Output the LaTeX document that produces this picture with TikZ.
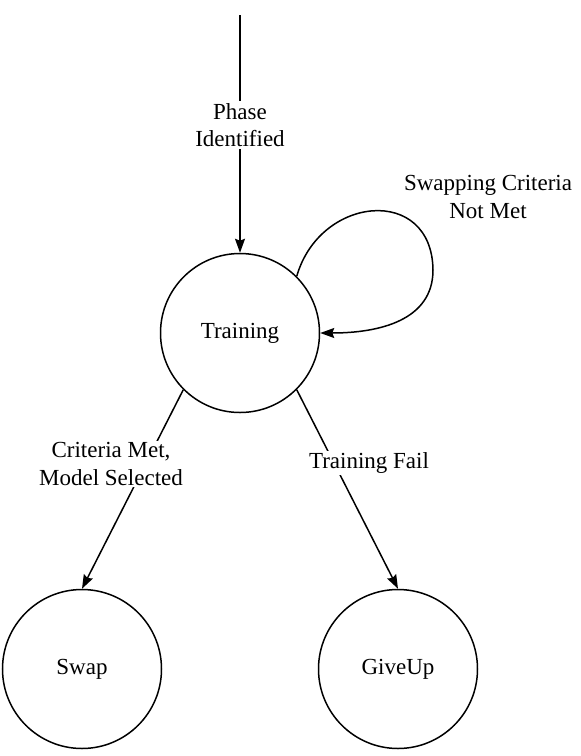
\documentclass[tikz,border=0pt]{standalone}
\usepackage{fontspec}
\setmainfont{LiberationSerif}[Extension=.ttf,UprightFont=*-Regular,BoldFont=*-Bold]
\usetikzlibrary{arrows.meta}
\begin{document}
\begin{tikzpicture}[x=1pt,y=-1pt,
  every node/.style={font=\rmfamily\fontsize{23}{27.5}\selectfont},
  state/.style={draw,circle,line width=1.5pt,minimum size=159pt,inner sep=0pt},
  conn/.style={line width=1.5pt,-{Stealth[length=14pt,width=10pt,inset=2pt]}},
  lbl/.style={fill=white,inner sep=2pt,align=center}]
\useasboundingbox (0,0) rectangle (581,756);
\node[state] (train) at (240,333) {Training};
\node[state] (swap) at (82,669) {Swap};
\node[state] (give) at (398,669) {GiveUp};
\coordinate (start) at (240,15);
\coordinate (loopA) at (433,270);
\draw[conn] (start) -- (train.north);
\node[lbl] (l1) at (240,125) {Phase\\Identified};
\draw[conn] (train.north east) .. controls (320,195) and (432,185) .. (loopA)
  .. controls (433,320) and (380,333) .. (train.east);
\node[align=center] (l2) at (488,197) {Swapping Criteria\\Not Met};
\draw[conn] (train.south west) -- (swap.north);
\node[lbl] (l3) at (111,464) {Criteria Met,\\Model Selected};
\draw[conn] (train.south east) -- (give.north);
\node[lbl] (l4) at (369,463) {Training Fail};
\end{tikzpicture}
\end{document}
